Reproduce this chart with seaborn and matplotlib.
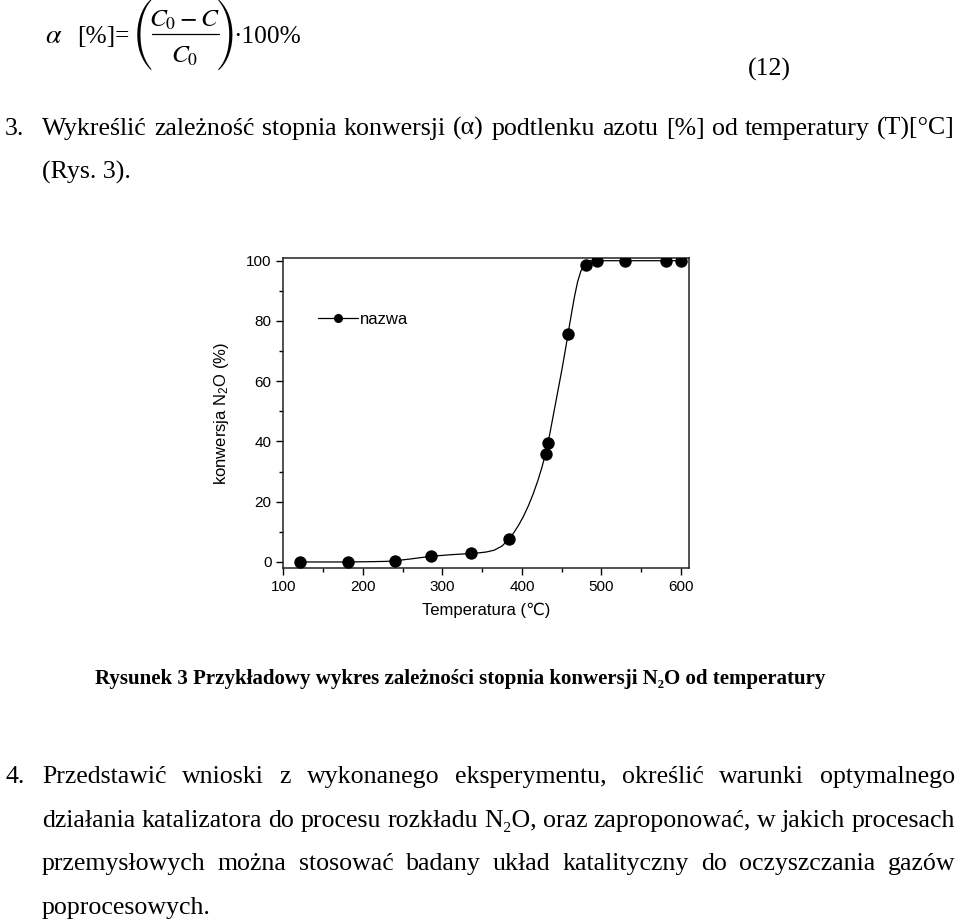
import matplotlib
matplotlib.use("Agg")
import matplotlib.pyplot as plt
import matplotlib.ticker as mticker
from matplotlib.lines import Line2D
import seaborn as sns

# ---------------- data ----------------
temp_pts = [121, 181, 240, 286, 336, 384, 430, 433, 458, 481, 494, 530, 581, 600]
conv_pts = [0.0, 0.0, 0.3, 2.0, 2.9, 7.6, 35.8, 39.4, 75.7, 98.7, 100, 100, 100, 100]

# smooth fitted curve
curve_t = [121, 150, 180, 210, 230, 240, 260, 286, 310, 335, 345, 355, 365, 375, 384,
           390, 396, 402, 408, 414, 420, 425, 430, 435, 440, 445, 450, 455, 458,
           462, 466, 470, 474, 478, 482, 486, 500, 550, 600]
curve_v = [0, 0, 0, 0.1, 0.2, 0.4, 1.0, 1.9, 2.4, 2.8, 3.0, 3.3, 3.9, 5.3, 7.7,
           9.8, 12.3, 15.2, 18.6, 22.5, 27.0, 31.3, 36.2, 42.5, 49.5, 56.5, 63.5, 71.0, 75.8,
           82.0, 88.0, 93.0, 96.5, 98.6, 99.6, 100, 100, 100, 100]

x_ticks = [100, 200, 300, 400, 500, 600]
y_ticks = [0, 20, 40, 60, 80, 100]
series_name = "nazwa"
x_label = "Temperatura (\u2103)"
y_label = "konwersja N$_2$O (%)"

f_alpha = r"$\alpha$"
f_lhs = "[%]="
f_num = r"$C_0-C$"
f_den = r"$C_0$"
f_rhs = "·100%"
eq_number = "(12)"
item3_num = "3."
item3_line1 = "Wykreślić zależność stopnia konwersji (α)  podtlenku azotu [%] od temperatury (T)[°C]"
item3_line2 = "(Rys. 3)."
caption = "Rysunek 3 Przykładowy wykres zależności stopnia konwersji N₂O od temperatury"
item4_num = "4."
item4_lines = [
    "Przedstawić wnioski z wykonanego eksperymentu, określić warunki optymalnego",
    "działania katalizatora do procesu rozkładu N₂O, oraz zaproponować, w jakich procesach",
    "przemysłowych można stosować badany układ katalityczny do oczyszczania gazów",
    "poprocesowych.",
]

# ---------------- style ----------------
sns.set_style("ticks")
plt.rcParams["font.family"] = ["Liberation Sans", "DejaVu Sans"]
plt.rcParams["mathtext.fontset"] = "custom"
plt.rcParams["mathtext.rm"] = "Liberation Sans"
plt.rcParams["mathtext.it"] = "Liberation Sans:italic"
plt.rcParams["mathtext.bf"] = "Liberation Sans:bold"
for k in ["text.color", "axes.labelcolor", "xtick.color", "ytick.color", "axes.edgecolor"]:
    plt.rcParams[k] = "black"

W, H = 960, 924
fig = plt.figure(figsize=(W / 100, H / 100), dpi=100)
fig.patch.set_facecolor("white")
renderer = fig.canvas.get_renderer()
SERIF = ["Liberation Serif", "DejaVu Serif"]
PAREN = ["STIXSizeThreeSym", "STIXGeneral", "DejaVu Serif"]


def fx(x):
    return x / W


def fy(y):
    return 1 - y / H


def extent(s, **kw):
    t = fig.text(0, 0, s, **kw)
    e = t.get_window_extent(renderer)
    t.remove()
    return e


def text_width(s, **kw):
    return extent(s, **kw).width


def justify(line, x0, x1, y, **kw):
    words = line.split()
    widths = [text_width(w, **kw) for w in words]
    gap = (x1 - x0 - sum(widths)) / max(len(words) - 1, 1)
    x = x0
    for w, wd in zip(words, widths):
        fig.text(fx(x), fy(y), w, va="baseline", ha="left", **kw)
        x += wd + gap


# body font size fitted to the line width
w16 = text_width(item3_line1, fontsize=16, family=SERIF)
fs = 16 * 913 / w16

# ---- formula, assembled piece by piece ----
ffs = fs * 0.98
fig.text(fx(45), fy(43), f_alpha, fontsize=ffs * 1.1, math_fontfamily="stix", va="baseline")
fig.text(fx(77), fy(43), f_lhs, fontsize=ffs, family=SERIF, va="baseline")
fig.text(fx(185), fy(27), f_num, fontsize=ffs, math_fontfamily="stix", va="baseline", ha="center")
fig.text(fx(185), fy(63), f_den, fontsize=ffs, math_fontfamily="stix", va="baseline", ha="center")
fig.add_artist(Line2D([fx(152), fx(219)], [fy(33.5), fy(33.5)], transform=fig.transFigure,
                      color="black", lw=0.9))
hp = extent("(", fontsize=20, family=PAREN).height
pfs = 20 * 72 / hp
fig.text(fx(143), fy(35), "(", fontsize=pfs, family=PAREN, va="center", ha="center")
fig.text(fx(227), fy(35), ")", fontsize=pfs, family=PAREN, va="center", ha="center")
fig.text(fx(233), fy(43), f_rhs, fontsize=ffs, family=SERIF, va="baseline")
fig.text(fx(748), fy(76), eq_number, fontsize=fs, family=SERIF, va="baseline")

# item 3
fig.text(fx(5), fy(135), item3_num, fontsize=fs, family=SERIF, va="baseline")
justify(item3_line1, 42, 955, 135, fontsize=fs, family=SERIF)
fig.text(fx(42), fy(179), item3_line2, fontsize=fs, family=SERIF, va="baseline")

# caption
wc = text_width(caption, fontsize=14, family=SERIF, weight="bold")
fsc = 14 * 732 / wc
fig.text(fx(95), fy(684), caption, fontsize=fsc, family=SERIF, weight="bold", va="baseline")

# item 4
fig.text(fx(5), fy(783), item4_num, fontsize=fs, family=SERIF, va="baseline")
base = [783, 827, 870, 914]
for i, ln in enumerate(item4_lines):
    if i < len(item4_lines) - 1:
        justify(ln, 42, 955, base[i], fontsize=fs, family=SERIF)
    else:
        fig.text(fx(42), fy(base[i]), ln, fontsize=fs, family=SERIF, va="baseline")

# ---------------- chart ----------------
ax = fig.add_axes([283.3 / W, 1 - 568.3 / H, 406 / W, 310 / H])
sns.lineplot(x=curve_t, y=curve_v, ax=ax, color="black", lw=0.9, estimator=None,
             legend=False, zorder=2)
sns.scatterplot(x=temp_pts, y=conv_pts, ax=ax, color="black", s=80, linewidth=0,
                zorder=3, legend=False)
ax.set_xlim(100, 610.4)
ax.set_ylim(-2.1, 100.8)
ax.set_xticks(x_ticks)
ax.set_yticks(y_ticks)
ax.xaxis.set_minor_locator(mticker.MultipleLocator(50))
ax.yaxis.set_minor_locator(mticker.MultipleLocator(10))
ax.tick_params(which="major", direction="out", length=5, width=1, labelsize=11,
               top=False, right=False, pad=3.5)
ax.tick_params(which="minor", direction="out", length=3, width=1, top=False, right=False)
for sp in ax.spines.values():
    sp.set_linewidth(1.1)
    sp.set_color("#222222")
ax.set_xlabel(x_label, fontsize=12, labelpad=6)
ax.set_ylabel(y_label, fontsize=12, labelpad=11)

handle = Line2D([], [], color="black", lw=0.9, marker="o", markersize=5.5)
ax.legend([handle], [series_name], loc="center left", bbox_to_anchor=(0.085, 0.804),
          frameon=False, borderaxespad=0, borderpad=0, handlelength=2.4,
          handletextpad=0.1, fontsize=12)

fig.savefig("out.png", dpi=100, facecolor="white")
